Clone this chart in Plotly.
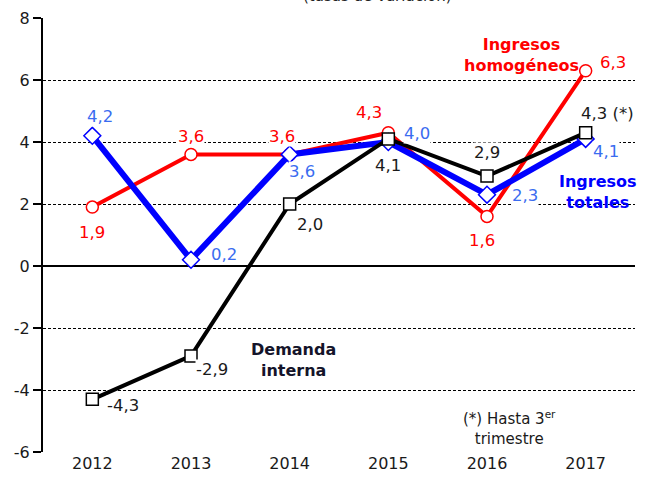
import plotly.graph_objects as go

years = ["2012", "2013", "2014", "2015", "2016", "2017"]
ingresos_homogeneos = [1.9, 3.6, 3.6, 4.3, 1.6, 6.3]
ingresos_totales = [4.2, 0.2, 3.6, 4.0, 2.3, 4.1]
demanda_interna = [-4.3, -2.9, 2.0, 4.1, 2.9, 4.3]
y_ticks = [-6, -4, -2, 0, 2, 4, 6, 8]

FONT = "DejaVu Sans"
RED = "#FF0000"
BLUE = "#0000FF"
BLUE_LBL = "#3a6cf0"
BLACK = "#000000"

fig = go.Figure()
fig.add_trace(go.Scatter(x=years, y=ingresos_homogeneos, mode="lines+markers",
                         line=dict(color=RED, width=4),
                         marker=dict(symbol="circle", size=12, color="white",
                                     line=dict(color=RED, width=1.5)),
                         name="Ingresos homogéneos", cliponaxis=False))
fig.add_trace(go.Scatter(x=years, y=ingresos_totales, mode="lines+markers",
                         line=dict(color=BLUE, width=6),
                         marker=dict(symbol="diamond", size=13, color="white",
                                     line=dict(color=BLUE, width=1.5)),
                         name="Ingresos totales", cliponaxis=False))
fig.add_trace(go.Scatter(x=years, y=demanda_interna, mode="lines+markers",
                         line=dict(color=BLACK, width=4),
                         marker=dict(symbol="square", size=12, color="white",
                                     line=dict(color=BLACK, width=1.5)),
                         name="Demanda interna", cliponaxis=False))

def fmt(v):
    return f"{v:.1f}".replace(".", ",")

# label offsets (pixels) per point
red_off = [(0, -25), (0, 18), (-8, 18), (-19, 20), (-5, -24), (27, 8)]
blue_off = [(8, 19), (33, 5), (12, -17), (29, 9), (38, -1), (20, -13)]
black_off = [(31, -6), (21, -14), (20, -20), (0, -27), (0, 24), (22, 19)]

anns = []
def add_labels(vals, offs, color, extra=None):
    for i, v in enumerate(vals):
        txt = fmt(v)
        if extra and i in extra:
            txt += extra[i]
        anns.append(dict(x=i, y=v, xref="x", yref="y", text=txt, showarrow=False,
                         xshift=offs[i][0], yshift=offs[i][1],
                         font=dict(family=FONT, size=16.5, color=color),
                         bgcolor="white", borderpad=0))

add_labels(ingresos_homogeneos, red_off, RED)
add_labels(ingresos_totales, blue_off, BLUE_LBL)
add_labels(demanda_interna, black_off, "#1a1a1a", extra={5: " (*)"})

anns += [
    dict(x=4.35, y=6.8, xref="x", yref="y", text="<b>Ingresos<br>homogéneos</b>",
         showarrow=False, font=dict(family=FONT, size=16, color=RED)),
    dict(x=5.13, y=2.39, xref="x", yref="y", text="<b>Ingresos<br>totales</b>",
         showarrow=False, font=dict(family=FONT, size=16, color=BLUE)),
    dict(x=2.04, y=-3.03, xref="x", yref="y", text="<b>Demanda<br>interna</b>",
         showarrow=False, font=dict(family=FONT, size=16, color="#14142a")),
    dict(x=4.23, y=-5.23, xref="x", yref="y", text="(*) Hasta 3<sup>er</sup><br>trimestre",
         showarrow=False, font=dict(family=FONT, size=15, color="#1a1a1a")),
    dict(x=0.5, y=1, xref="paper", yref="paper", text="(tasas de variación)",
         showarrow=False, yshift=33, xshift=38,
         font=dict(family=FONT, size=15, color="#222222")),
]

fig.update_layout(
    width=646, height=481,
    margin=dict(l=43, r=11, t=18, b=29),
    paper_bgcolor="white", plot_bgcolor="white",
    showlegend=False,
    annotations=anns,
    font=dict(family=FONT, size=16, color="#1a1a1a"),
)
fig.update_xaxes(type="category", range=[-0.5, 5.5], showgrid=False, showline=False,
                 ticks="", tickfont=dict(family=FONT, size=16, color="#1a1a1a"),
                 zeroline=False, automargin=False)
fig.update_yaxes(range=[-6, 8], tickvals=y_ticks, ticktext=[str(t) for t in y_ticks],
                 showgrid=True, gridcolor="black", gridwidth=1, griddash="3px,2px",
                 zeroline=True, zerolinecolor="black", zerolinewidth=1.5,
                 showline=True, linecolor="black", linewidth=2,
                 ticks="outside", ticklen=8, tickcolor="black", tickwidth=1.5,
                 tickfont=dict(family=FONT, size=16, color="#1a1a1a"),
                 automargin=False)

fig.write_html("out.html", config={"displayModeBar": False},
               post_script="document.body.style.margin='0';document.body.style.overflow='hidden';")
